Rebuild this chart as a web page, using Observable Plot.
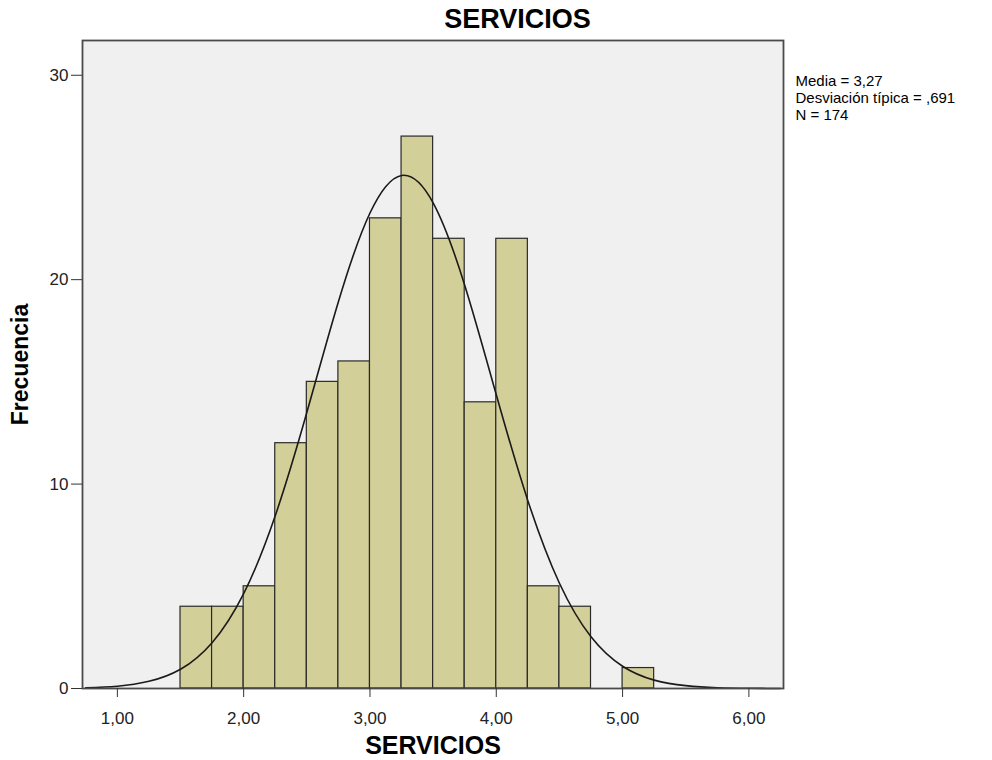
<!DOCTYPE html>
<html>
<head>
<meta charset="utf-8">
<script src="https://cdn.jsdelivr.net/npm/d3@7"></script>
<script src="https://cdn.jsdelivr.net/npm/@observablehq/plot@0.6"></script>
<style>
  html, body { margin: 0; padding: 0; background: #ffffff; }
  #chart svg { overflow: visible; display: block; }
</style>
</head>
<body>
<div id="chart"></div>
<script>
// Histogram bins (lower edge) and frequencies
const binStarts = [1.50, 1.75, 2.00, 2.25, 2.50, 2.75, 3.00, 3.25, 3.50, 3.75, 4.00, 4.25, 4.50, 4.75, 5.00];
const binWidth = 0.25;
const counts    = [4, 4, 5, 12, 15, 16, 23, 27, 22, 14, 22, 5, 4, 0, 1];

// Normal curve
const curveX = [0.75, 1.00, 1.25, 1.50, 1.75, 2.00, 2.25, 2.50, 2.75, 3.00, 3.25, 3.50, 3.75, 4.00, 4.25, 4.50, 4.75, 5.00, 5.25, 5.50, 5.75, 6.00, 6.25];
const curveY = [0.03, 0.11, 0.35, 0.94, 2.24, 4.64, 8.45, 13.50, 18.92, 23.26, 25.10, 23.76, 19.73, 14.37, 9.19, 5.15, 2.53, 1.09, 0.41, 0.14, 0.04, 0.01, 0.00];

const xTicks = [1, 2, 3, 4, 5, 6];
const yTicks = [0, 10, 20, 30];

const titleText = "SERVICIOS";
const xLabel = "SERVICIOS";
const yLabel = "Frecuencia";
const statsLines = ["Media = 3,27", "Desviación típica = ,691", "N = 174"];

const bars = binStarts.map((s, i) => ({x1: s, x2: s + binWidth, y: counts[i]}));
const curve = curveX.map((x, i) => ({x, y: curveY[i]}));

const chart = Plot.plot({
  width: 992,
  height: 760,
  marginLeft: 82,
  marginRight: 209,
  marginTop: 40,
  marginBottom: 72,
  style: {fontFamily: "'Liberation Sans', Arial, sans-serif", background: "#ffffff", color: "#222"},
  x: {domain: [0.724, 6.274]},
  y: {domain: [0, 31.7]},
  marks: [
    Plot.frame({fill: "#f0f0f0", stroke: "none"}),
    Plot.rectY(bars, {x1: "x1", x2: "x2", y: "y", fill: "#d3cf99", stroke: "#2a2a2a", strokeWidth: 1.2, inset: 0}),
    Plot.line(curve, {x: "x", y: "y", stroke: "#1a1a1a", strokeWidth: 1.6, curve: "natural"}),
    Plot.frame({stroke: "#4a4a4a", strokeWidth: 1.8}),
    Plot.axisY({ticks: yTicks, tickSize: 11, tickPadding: 3, fontSize: 17, label: null, stroke: "#333"}),
    Plot.axisX({ticks: xTicks, tickSize: 9, tickPadding: 14, fontSize: 17, label: null,
      tickFormat: d => d.toFixed(2).replace(".", ","), stroke: "#333"}),
    Plot.text([titleText], {frameAnchor: "top-left", dx: 435, dy: -21, textAnchor: "middle", lineAnchor: "middle", fontSize: 27, fontWeight: "bold", fill: "#000"}),
    Plot.text([xLabel], {frameAnchor: "bottom", dy: 57, textAnchor: "middle", lineAnchor: "middle", fontSize: 25, fontWeight: "bold", fill: "#000"}),
    Plot.text([yLabel], {frameAnchor: "left", dx: -62, rotate: -90, textAnchor: "middle", lineAnchor: "middle", fontSize: 23, fontWeight: "bold", fill: "#000"}),
    Plot.text([statsLines.join("\n")], {frameAnchor: "top-right", dx: 12, dy: 34, textAnchor: "start", lineAnchor: "top", fontSize: 15, lineHeight: 1.12, fill: "#000"})
  ]
});
document.getElementById("chart").appendChild(chart);
</script>
</body>
</html>
